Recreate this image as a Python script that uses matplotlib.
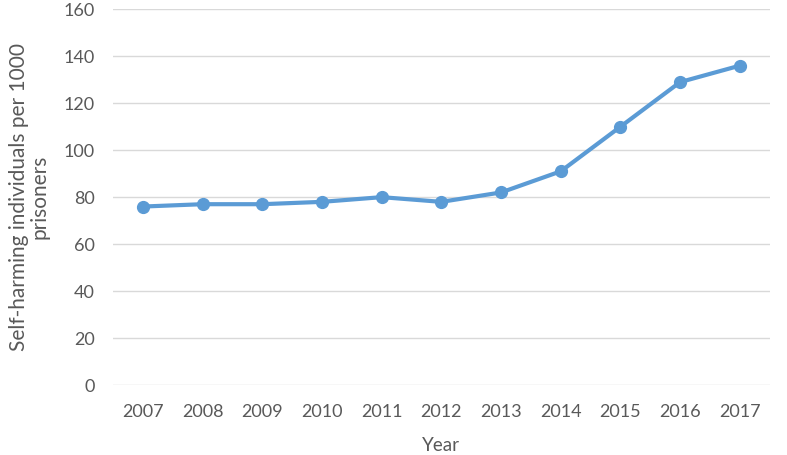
import matplotlib
matplotlib.use('Agg')
import matplotlib.pyplot as plt

years = ['2007', '2008', '2009', '2010', '2011', '2012', '2013', '2014', '2015', '2016', '2017']
rate = [76, 77, 77, 78, 80, 78, 82, 91, 110, 129, 136]
yticks = [0, 20, 40, 60, 80, 100, 120, 140, 160]

plt.rcParams['font.family'] = ['Lato', 'DejaVu Sans']
txt = '#595959'

fig = plt.figure(figsize=(7.87, 4.55), dpi=100)
ax = fig.add_axes([0.1436, 0.1538, 0.978 - 0.1436, 0.9796 - 0.1538])

x = range(len(years))
ax.plot(x, rate, color='#5B9BD5', lw=3, marker='o', ms=8.5, zorder=3)

ax.set_xlim(-0.5, len(years) - 0.5)
ax.set_ylim(0, 160)
ax.set_yticks(yticks)
ax.set_xticks(list(x))
ax.set_xticklabels(years)
ax.grid(axis='y', color='#D9D9D9', lw=1)
ax.set_axisbelow(True)
for s in ax.spines.values():
    s.set_visible(False)
ax.tick_params(length=0, labelsize=13, colors=txt)
ax.tick_params(axis='x', pad=14)
ax.tick_params(axis='y', pad=13)

ax.set_xlabel('Year', fontsize=13.5, color=txt, labelpad=12)
ax.set_ylabel('Self-harming individuals per 1000\nprisoners', fontsize=15, color=txt,
              labelpad=10, linespacing=1.05)

fig.savefig('out.png', dpi=100)
